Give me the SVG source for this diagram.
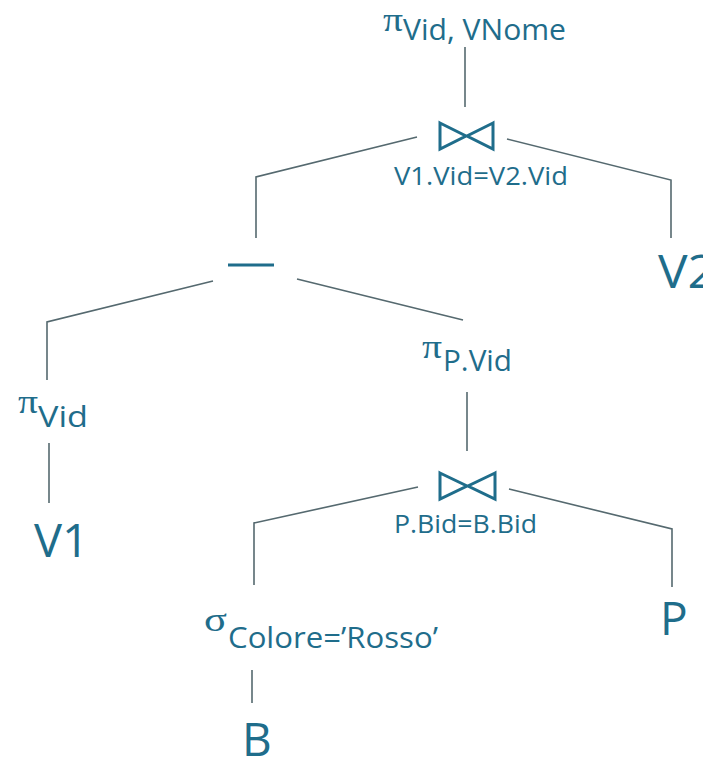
<svg xmlns="http://www.w3.org/2000/svg" width="703" height="768" viewBox="0 0 703 768">
<style>
.bg{fill:#ffffff}
.t{fill:#1f6d8b;font-family:"Open Sans","Noto Sans","Liberation Sans",sans-serif}
.g{fill:#1f6d8b;font-family:"Liberation Serif","DejaVu Serif",serif;font-size:34px}
.sub{font-size:30px}
.cond{font-size:26px}
.big{font-size:46px}
.edge{fill:none;stroke:#55696f;stroke-width:1.6;stroke-linejoin:miter}
.op{fill:none;stroke:#1f6d8b;stroke-width:3;stroke-linejoin:miter}
</style>
<rect class="bg" x="0" y="0" width="703" height="768"/>
<g id="connectors">
<line class="edge" x1="465" y1="47" x2="465" y2="107"/>
<polyline class="edge" points="417,137 256,177 256,238"/>
<polyline class="edge" points="507,139 671,180 671,238"/>
<polyline class="edge" points="213,281 47,322 47,380"/>
<line class="edge" x1="297" y1="279" x2="463" y2="320"/>
<line class="edge" x1="49" y1="443" x2="49" y2="503"/>
<line class="edge" x1="467" y1="392" x2="467" y2="451"/>
<polyline class="edge" points="418,487 254,523 254,585"/>
<polyline class="edge" points="509,489 672,529 672,587"/>
<line class="edge" x1="252" y1="670" x2="252" y2="703"/>
</g>
<g id="proj-top">
<text class="g" x="383" y="31" textLength="20" lengthAdjust="spacingAndGlyphs">π</text>
<text class="t sub" x="403" y="40" textLength="163" lengthAdjust="spacingAndGlyphs">Vid, VNome</text>
</g>
<g id="join-top">
<path class="op" d="M440,123 L466,136 L440,149 Z M493,123 L467,136 L493,149 Z"/>
<text class="t cond" x="394" y="185" textLength="174" lengthAdjust="spacingAndGlyphs">V1.Vid=V2.Vid</text>
</g>
<g id="rel-V2">
<text class="t big" x="658" y="288" textLength="58" lengthAdjust="spacingAndGlyphs">V2</text>
</g>
<g id="minus">
<line class="op" x1="228" y1="265" x2="274" y2="265" stroke-width="3.5"/>
</g>
<g id="proj-vid">
<text class="g" x="18" y="413" textLength="20" lengthAdjust="spacingAndGlyphs">π</text>
<text class="t sub" x="38" y="427" textLength="50" lengthAdjust="spacingAndGlyphs">Vid</text>
</g>
<g id="rel-V1">
<text class="t big" x="34" y="557" textLength="55" lengthAdjust="spacingAndGlyphs">V1</text>
</g>
<g id="proj-pvid">
<text class="g" x="422" y="358" textLength="20" lengthAdjust="spacingAndGlyphs">π</text>
<text class="t sub" x="443" y="371" textLength="69" lengthAdjust="spacingAndGlyphs">P.Vid</text>
</g>
<g id="join-bottom">
<path class="op" d="M440,473 L467,486 L440,499 Z M495,473 L468,486 L495,499 Z"/>
<text class="t cond" x="394" y="533" textLength="143" lengthAdjust="spacingAndGlyphs">P.Bid=B.Bid</text>
</g>
<g id="rel-P">
<text class="t big" x="660" y="635">P</text>
</g>
<g id="select">
<text class="g" x="204" y="631" textLength="23" lengthAdjust="spacingAndGlyphs">σ</text>
<text class="t sub" x="228" y="648" textLength="210" lengthAdjust="spacingAndGlyphs">Colore=’Rosso’</text>
</g>
<g id="rel-B">
<text class="t big" x="242" y="756" font-size="44">B</text>
</g>
</svg>
